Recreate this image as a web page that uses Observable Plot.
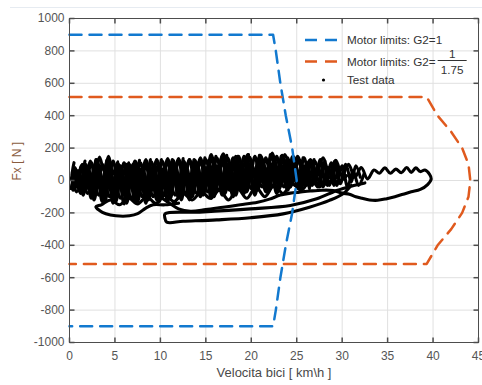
<!DOCTYPE html>
<html><head><meta charset="utf-8">
<script src="https://cdn.jsdelivr.net/npm/d3@7"></script>
<script src="https://cdn.jsdelivr.net/npm/@observablehq/plot@0.6"></script>
<style>
html,body{margin:0;padding:0;background:#fff;overflow:hidden;width:482px;height:385px}
#wrap{position:relative;width:482px;height:385px}
#wrap svg{position:absolute;left:0;top:0}
#topline{position:absolute;left:10px;top:7px;width:472px;height:1px;background:#e6ebf1}
</style></head><body><div id="wrap"><div id="topline"></div></div>
<script>
// ---- axis ticks ----
const xTicks = [0, 5, 10, 15, 20, 25, 30, 35, 40, 45];
const yTicks = [-1000, -800, -600, -400, -200, 0, 200, 400, 600, 800, 1000];

// ---- motor limit envelopes (speed km/h, force N) ----
const limitG1Speed = [0, 22.4, 22.7, 23.2, 23.8, 24.5, 25.0, 24.5, 23.8, 23.2, 22.7, 22.4, 0];
const limitG1Force = [900, 900, 800, 600, 400, 200, 0, -200, -400, -600, -800, -900, -900];
const limitG175Speed = [0, 39.3, 40.5, 42.0, 43.2, 43.9, 44.1, 43.9, 43.2, 42.0, 40.5, 39.3, 0];
const limitG175Force = [515, 515, 400, 300, 200, 100, 0, -100, -200, -300, -400, -515, -515];

// ---- test data traces [speed, force] ----
const traceA = [[0.3,-10],[0.6,70],[1.0,20],[1.4,100],[1.8,30],[2.3,120],[2.8,40],[3.3,145],[3.8,60],[4.3,150],[4.8,40],[5.3,110],[5.8,20],[6.3,100],[6.8,30],[7.3,115],[7.8,20],[8.4,130],[9.0,30],[9.6,125],[10.2,25],[10.8,135],[11.4,35],[12.0,135],[12.6,40],[13.2,130],[13.8,30],[14.4,140],[15.0,40],[15.6,160],[16.2,50],[16.9,165],[17.6,45],[18.3,150],[18.9,50],[19.6,160],[20.3,55],[21.0,155],[21.7,60],[22.3,170],[23.0,60],[23.7,160],[24.4,50],[25.1,150],[25.8,60],[26.5,130],[27.2,50],[27.9,140],[28.6,40],[29.3,125],[30.0,30],[30.7,100],[31.4,20],[32.1,80],[32.8,10],[33.5,65],[34.1,45],[34.7,78],[35.3,45],[35.9,70],[36.5,48],[37.1,80],[37.6,50],[38.1,78],[38.6,55],[39.1,65],[39.6,40],[39.8,10],[39.4,-25],[38.6,-55],[37.6,-70],[36.7,-85],[35.8,-100],[34.9,-112],[33.9,-122],[33.0,-120],[32.2,-110],[31.5,-100],[30.8,-85],[30.0,-78],[29.0,-62],[27.8,-60],[26.5,-65],[25.3,-72],[24.3,-78],[23.2,-90],[22.0,-115],[20.7,-134],[18.8,-150],[16.9,-165],[15.0,-180],[13.3,-190],[12.0,-175],[11.0,-140],[10.0,-100],[9.2,-40],[8.6,-90],[8.0,-30],[7.4,-100]];
const traceB = [[31.0,-30],[30.1,-82],[28.6,-123],[26.4,-165],[23.5,-206],[19.9,-230],[16.2,-243],[12.5,-252],[10.7,-257],[10.5,-232],[10.5,-206],[14.3,-195],[19.9,-175],[24.3,-154],[27.2,-113],[29.4,-62],[31.0,-35],[32.5,-15]];
const traceC = [[12.0,-140],[10.5,-150],[9.2,-150],[8.4,-170],[7.5,-205],[6.6,-218],[5.1,-218],[4.0,-205],[3.3,-185],[2.9,-162],[3.5,-150],[4.5,-120],[5.5,-150],[6.5,-110],[7.5,-145],[8.5,-100],[9.5,-140],[10.5,-90],[11.5,-130],[12.5,-80],[13.5,-120],[14.5,-70],[15.5,-110],[16.5,-60],[17.5,-120],[18.5,-50],[19.5,-110],[20.5,-40],[21.5,-100],[22.5,-30],[23.5,-80],[24.5,-20],[25.5,-60],[26.5,0],[27.5,-40],[28.5,20],[29.5,-10],[30.5,30]];
const traceD = [[27.5,-20],[27.0,40],[26.4,-40],[25.8,50],[25.2,-50],[24.6,60],[24.0,-60],[23.4,40],[22.8,-80],[22.2,50],[21.6,-70],[21.0,60],[20.4,-90],[19.8,40],[19.2,-80],[18.6,50],[18.0,-100],[17.4,30],[16.8,-90],[16.2,50],[15.6,-110],[15.0,40],[14.4,-100],[13.8,30],[13.2,-120],[12.6,50],[12.0,-110],[11.4,40],[10.8,-130],[10.2,30],[9.6,-120],[9.0,50],[8.4,-140],[7.8,40],[7.2,-130],[6.6,30],[6.0,-145],[5.4,40],[4.8,-140],[4.2,30],[3.6,-130],[3.0,50],[2.4,-110],[1.8,40],[1.2,-80],[0.6,30],[0.2,-50]];
const traceE = [[0.3,40],[0.8,-40],[1.3,90],[1.8,-20],[2.4,110],[3.0,-50],[3.6,100],[4.2,-30],[4.8,120],[5.4,-40],[6.0,110],[6.6,-20],[7.2,120],[7.8,-40],[8.4,110],[9.0,-30],[9.6,130],[10.2,-40],[10.8,120],[11.4,-20],[12.0,125],[12.6,-30],[13.2,130],[13.8,-20],[14.4,120],[15.0,-10],[15.6,140],[16.2,-20],[16.8,150],[17.4,-10],[18.0,140],[18.6,-20],[19.2,150],[19.8,0],[20.4,150],[21.0,-10],[21.6,140],[22.2,0],[22.8,150],[23.4,-10],[24.0,140],[24.6,0],[25.2,130],[25.8,-10],[26.4,120],[27.0,0],[27.6,130],[28.2,-20],[28.8,110],[29.4,-30],[30.0,90],[30.6,-40],[31.2,60],[31.8,-30],[32.4,40]];
const traceF = [[32.0,20],[31.5,90],[31.0,-10],[30.4,100],[29.8,-20],[29.2,120],[28.6,-30],[28.0,110],[27.3,-40],[26.6,120],[25.9,-30],[25.2,130],[24.5,-20],[23.8,120],[23.1,-40],[22.4,110],[21.7,-30],[21.0,120],[20.3,-50],[19.6,110],[18.9,-40],[18.2,120],[17.5,-50],[16.8,110],[16.1,-40],[15.4,100],[14.7,-60],[14.0,110],[13.3,-50],[12.6,100],[11.9,-60],[11.2,110],[10.5,-50],[9.8,100],[9.1,-60],[8.4,90],[7.7,-70],[7.0,100],[6.3,-60],[5.6,90],[4.9,-70],[4.2,100],[3.5,-60],[2.8,90],[2.1,-50],[1.4,80],[0.8,-40],[0.3,50]];
const traceG = [[0.2,-50],[0.7,60],[1.2,-60],[1.8,70],[2.4,-80],[3.0,60],[3.6,-90],[4.2,70],[4.8,-100],[5.4,60],[6.0,-90],[6.6,80],[7.2,-100],[7.8,70],[8.4,-90],[9.0,80],[9.6,-100],[10.2,70],[10.8,-80],[11.4,90],[12.0,-90],[12.6,80],[13.2,-80],[13.8,90],[14.4,-90],[15.0,80],[15.6,-80],[16.2,90],[16.8,-70],[17.4,100],[18.0,-80],[18.6,90],[19.2,-60],[19.8,100],[20.4,-70],[21.0,90],[21.6,-50],[22.2,100],[22.8,-60],[23.4,90],[24.0,-50],[24.6,100],[25.2,-40],[25.8,90],[26.4,-50]];
const traceH = [[0.5,110],[0.3,20],[0.8,-70],[1.4,20],[1.7,120],[1.5,30],[2.0,-80],[2.6,20],[2.9,130],[2.7,30],[3.2,-90],[3.8,20],[4.1,125],[3.9,30],[4.4,-100],[5.0,20],[5.3,115],[5.1,20],[5.6,-110],[6.2,10],[6.5,110],[6.3,20],[6.8,-110],[7.4,10],[7.7,125],[7.5,30],[8.0,-100],[8.6,20],[8.9,130],[8.7,30],[9.2,-100],[9.8,20],[10.1,130],[9.9,30],[10.4,-90],[11.0,20],[11.3,130],[11.1,30],[11.6,-90],[12.2,20],[12.5,135],[12.3,30],[12.8,-80],[13.4,20],[13.7,130],[13.5,30],[14.0,-80],[14.6,20],[14.9,140],[14.7,40],[15.2,-70],[15.8,30],[16.1,150],[15.9,40],[16.4,-60],[17.0,30],[17.3,155],[17.1,40],[17.6,-60],[18.2,30],[18.5,150],[18.3,40],[18.8,-50],[19.4,40],[19.7,160],[19.5,50],[20.0,-50],[20.6,40],[20.9,155],[20.7,50],[21.2,-40],[21.8,40],[22.1,160],[21.9,50],[22.4,-40],[23.0,40],[23.3,150],[23.1,50],[23.6,-40],[24.2,40],[24.5,145],[24.3,50],[24.8,-30],[25.4,40],[25.7,140],[25.5,50],[26.0,-30],[26.6,40],[26.9,130],[26.7,40],[27.2,-20],[27.8,40],[28.1,120],[27.9,40],[28.4,-30],[29.0,30],[29.3,100]];
const traceI = [[29.5,60],[29.0,-20],[28.5,80],[27.9,-30],[27.3,90],[26.7,-20],[26.1,100],[25.5,-30],[24.9,90],[24.3,-40],[23.7,100],[23.1,-30],[22.5,90],[21.9,-50],[21.3,100],[20.7,-40],[20.1,90],[19.5,-60],[18.9,100],[18.3,-50],[17.7,90],[17.1,-70],[16.5,90],[15.9,-60],[15.3,80],[14.7,-80],[14.1,90],[13.5,-70],[12.9,80],[12.3,-90],[11.7,90],[11.1,-80],[10.5,80],[9.9,-100],[9.3,80],[8.7,-90],[8.1,70],[7.5,-110],[6.9,80],[6.3,-100],[5.7,70],[5.1,-120],[4.5,80],[3.9,-110],[3.3,70],[2.7,-100],[2.1,70],[1.5,-80],[0.9,60],[0.4,-60]];
const traceJ = [[0.5,-30],[1.0,60],[1.5,-90],[2.1,50],[2.7,-120],[3.3,40],[3.9,-130],[4.5,50],[5.1,-130],[5.7,40],[6.3,-140],[6.9,50],[7.5,-130],[8.1,40],[8.7,-120],[9.3,60],[9.9,-130],[10.5,50],[11.1,-110],[11.7,60],[12.3,-120],[12.9,40],[13.5,-100],[14.1,60],[14.7,-90],[15.3,50],[15.9,-100],[16.5,60],[17.1,-80],[17.7,70],[18.3,-90],[18.9,60],[19.5,-70],[20.1,70],[20.7,-60],[21.3,60],[21.9,-70],[22.5,70],[23.1,-50],[23.7,60],[24.3,-40],[24.9,70],[25.5,-50],[26.1,60],[26.7,-30],[27.3,60],[27.9,-40],[28.5,50],[29.1,-30]];
const traceK = [[28.0,100],[27.6,30],[27.0,120],[26.4,20],[25.8,140],[25.2,30],[24.6,150],[24.0,20],[23.4,155],[22.8,30],[22.2,150],[21.6,20],[21.0,150],[20.4,30],[19.8,145],[19.2,20],[18.6,150],[18.0,10],[17.4,140],[16.8,20],[16.2,140],[15.6,10],[15.0,130],[14.4,0],[13.8,125],[13.2,10],[12.6,120],[12.0,0],[11.4,125],[10.8,-10],[10.2,120],[9.6,0],[9.0,115],[8.4,-10],[7.8,110],[7.2,0],[6.6,100],[6.0,-10],[5.4,100],[4.8,-20],[4.2,120],[3.6,0],[3.0,130],[2.4,-10],[1.8,100],[1.2,-20],[0.6,80],[0.2,10]];

const legendLabels = ["Motor limits: G2=1", "Motor limits: G2=", "Test data"];
const fractionParts = ["1", "1.75"];
const axisLabelX = "Velocita bici [ km\\h ]";
const axisLabelY = "Fx [ N ]";

// ---- build tables ----
const traces = {A: traceA, B: traceB, C: traceC, D: traceD, E: traceE, F: traceF, G: traceG, H: traceH, I: traceI, J: traceJ, K: traceK};
const testRows = [];
for (const [k, arr] of Object.entries(traces)) for (const [v, f] of arr) testRows.push({trace: k, v, f});
const g1Rows = limitG1Speed.map((v, i) => ({v, f: limitG1Force[i]}));
const g175Rows = limitG175Speed.map((v, i) => ({v, f: limitG175Force[i]}));

const xMin = xTicks[0], xMax = xTicks[xTicks.length - 1];
const yMin = yTicks[0], yMax = yTicks[yTicks.length - 1];

const BLUE = "#1279cf", ORANGE = "#e05a1e", AXIS = "#4d4d4d", GRID = "#e0e0e0";
const DASH = "12,8";
const FONT = "'Liberation Sans', Arial, Helvetica, sans-serif";

const tickSym = (dx, dy) => ({draw(ctx) { ctx.moveTo(0, 0); ctx.lineTo(dx, dy); }});
const TL = 5;

const chart = Plot.plot({
  width: 482, height: 385,
  marginLeft: 69, marginRight: 4, marginTop: 18, marginBottom: 43,
  style: {fontFamily: FONT, fontSize: "12px", background: "transparent", overflow: "visible"},
  x: {domain: [xMin, xMax]},
  y: {domain: [yMin, yMax]},
  marks: [
    Plot.gridX(xTicks, {stroke: GRID, strokeOpacity: 1}),
    Plot.gridY(yTicks, {stroke: GRID, strokeOpacity: 1}),
    Plot.line(testRows, {x: "v", y: "f", z: "trace", stroke: "#000", strokeWidth: 3.1, curve: "catmull-rom"}),
    Plot.line(g1Rows, {x: "v", y: "f", stroke: BLUE, strokeWidth: 2.5, strokeDasharray: DASH}),
    Plot.line(g175Rows, {x: "v", y: "f", stroke: ORANGE, strokeWidth: 2.5, strokeDasharray: DASH}),
    Plot.frame({stroke: AXIS, strokeWidth: 1}),
    Plot.dot(xTicks, {x: d => d, y: () => yMin, symbol: tickSym(0, -TL), stroke: AXIS, fill: "none"}),
    Plot.dot(xTicks, {x: d => d, y: () => yMax, symbol: tickSym(0, TL), stroke: AXIS, fill: "none"}),
    Plot.dot(yTicks, {y: d => d, x: () => xMin, symbol: tickSym(TL, 0), stroke: AXIS, fill: "none"}),
    Plot.dot(yTicks, {y: d => d, x: () => xMax, symbol: tickSym(-TL, 0), stroke: AXIS, fill: "none"}),
    Plot.axisX(xTicks, {anchor: "bottom", tickSize: 0, tickPadding: 9, label: null, color: "#555", tickFormat: d => String(d)}),
    Plot.axisY(yTicks, {anchor: "left", tickSize: 0, tickPadding: 5, label: null, color: "#555", tickFormat: d => String(d)}),
    Plot.text([axisLabelY], {frameAnchor: "left", dx: -52, rotate: -90, fill: "#8a5c3e", fontSize: 12}),
    Plot.text([axisLabelX], {frameAnchor: "bottom", dy: 34, fill: "#4a4a4a", fontSize: 13})
  ]
});
document.getElementById("wrap").appendChild(chart);

// ---- legend (inside, top-right) ----
const lg = d3.select("#wrap").append("svg").attr("width", 482).attr("height", 385)
  .style("font-family", FONT).style("font-size", "11.7px");
const rowsY = [40, 61.5, 80];
const lx1 = 305, lx2 = 342, tx = 347;
lg.append("line").attr("x1", lx1).attr("x2", lx2).attr("y1", rowsY[0]).attr("y2", rowsY[0])
  .attr("stroke", BLUE).attr("stroke-width", 2.5).attr("stroke-dasharray", DASH);
lg.append("line").attr("x1", lx1).attr("x2", lx2).attr("y1", rowsY[1]).attr("y2", rowsY[1])
  .attr("stroke", ORANGE).attr("stroke-width", 2.5).attr("stroke-dasharray", DASH);
lg.append("circle").attr("cx", (lx1 + lx2) / 2).attr("cy", rowsY[2]).attr("r", 1.6).attr("fill", "#000");
legendLabels.forEach((t, i) => {
  lg.append("text").attr("x", tx).attr("y", rowsY[i]).attr("dy", "0.35em").attr("fill", "#333").text(t);
});
const t2 = lg.selectAll("text").nodes()[1];
const endX = tx + t2.getComputedTextLength() + 2;
const fw = 29;
lg.append("text").attr("x", endX + fw / 2).attr("y", rowsY[1] - 8).attr("dy", "0.35em").attr("text-anchor", "middle").attr("fill", "#333").text(fractionParts[0]);
lg.append("line").attr("x1", endX).attr("x2", endX + fw).attr("y1", rowsY[1] - 1).attr("y2", rowsY[1] - 1).attr("stroke", "#333").attr("stroke-width", 1);
lg.append("text").attr("x", endX + fw / 2).attr("y", rowsY[1] + 8.5).attr("dy", "0.35em").attr("text-anchor", "middle").attr("fill", "#333").text(fractionParts[1]);
</script></body></html>
